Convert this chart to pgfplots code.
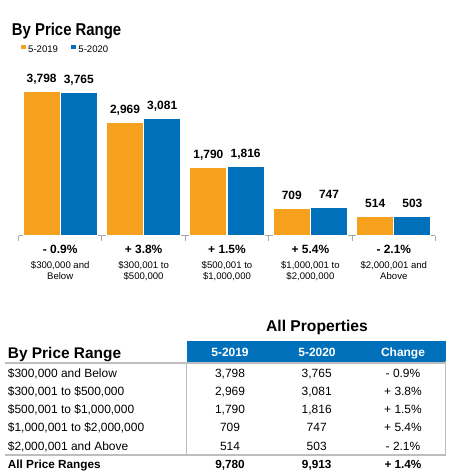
\documentclass[border=0pt]{standalone}
\usepackage{pgfplots}
\pgfplotsset{compat=1.18}
\usepackage{pgfplotstable}
\usepackage{fontspec}
\setmainfont{Liberation Sans}
\newfontfamily\condfont[FakeStretch=0.87]{Liberation Sans}
\definecolor{cOr}{HTML}{F5A11E}
\definecolor{cBl}{HTML}{0070BB}
\definecolor{cGr}{HTML}{BEBEBE}
\definecolor{cAx}{HTML}{A8A8A8}

\pgfplotstableread{
x y
0 3798
1 2969
2 1790
3 709
4 514
}\dataA
\pgfplotstableread{
x y
0 3765
1 3081
2 1816
3 747
4 503
}\dataB

\begin{document}
\begin{tikzpicture}
\begin{axis}[
  at={(18.5bp,-235.5bp)}, anchor=south west,
  scale only axis, width=417bp, height=151.6bp,
  xmin=-0.5, xmax=4.5, ymin=0, ymax=4000,
  axis x line*=bottom, axis y line=none,
  x axis line style={cAx, line width=0.8bp},
  ybar, bar width=37bp,
  xtick={0,1,2,3,4},
  xticklabels={
    {{\fontsize{12}{12}\selectfont\bfseries - 0.9\%}\\[3bp]\$300,000 and\\Below},
    {{\fontsize{12}{12}\selectfont\bfseries + 3.8\%}\\[3bp]\$300,001 to\\\$500,000},
    {{\fontsize{12}{12}\selectfont\bfseries + 1.5\%}\\[3bp]\$500,001 to\\\$1,000,000},
    {{\fontsize{12}{12}\selectfont\bfseries + 5.4\%}\\[3bp]\$1,000,001 to\\\$2,000,000},
    {{\fontsize{12}{12}\selectfont\bfseries - 2.1\%}\\[3bp]\$2,000,001 and\\Above}},
  major tick length=0pt,
  minor xtick={-0.5,0.5,1.5,2.5,3.5,4.5},
  minor tick length=5bp,
  minor x tick style={cAx, line width=0.8bp},
  tick align=outside,
  xticklabel style={align=center, font=\fontsize{9.6}{11.6}\selectfont, anchor=north, inner sep=0pt, yshift=-9.5bp},
  clip=false,
  /pgf/number format/assume math mode=true,
  /pgf/number format/1000 sep={,},
  nodes near coords={\pgfmathprintnumber{\pgfplotspointmeta}},
  every node near coord/.append style={font=\bfseries\fontsize{12}{12}\selectfont, black, anchor=base, inner sep=0pt, yshift=9bp},
  legend columns=2,
  legend style={at={(axis description cs:0.006,1.2256)}, anchor=west, draw=none, fill=none, inner sep=0pt,
    font=\fontsize{9.6}{9.6}\selectfont, nodes={inner sep=0pt},
    /tikz/every odd column/.style={column sep=2.5bp},
    /tikz/every even column/.style={column sep=13.5bp}},
  legend image code/.code={\fill[#1, draw=none] (0bp,0.8bp) rectangle (4.5bp,5.2bp);},
]
\addplot[fill=cOr, draw=white, line width=1bp, bar shift=-18.6bp] table[x=x,y=y] {\dataA};
\addplot[fill=cBl, draw=white, line width=1bp, bar shift=18.6bp] table[x=x,y=y] {\dataB};
\legend{5-2019, 5-2020}
\end{axis}

\begin{scope}[x=1bp, y=-1bp]
\node[anchor=base west, inner sep=0pt, font=\condfont\bfseries\fontsize{17.2}{17.2}\selectfont] at (11.7,35) {By Price Range};

% table
\node[anchor=base, inner sep=0pt, font=\bfseries\fontsize{15.7}{15.7}\selectfont] at (317,331.5) {All Properties};
\fill[cBl] (186.5,340.5) rectangle (445.5,361.5);
\begin{scope}[every node/.style={anchor=base, inner sep=0pt, text=white, font=\bfseries\fontsize{12}{12}\selectfont}]
\node at (230,356) {5-2019};
\node at (317,356) {5-2020};
\node at (403,356) {Change};
\end{scope}
\node[anchor=base west, inner sep=0pt, font=\bfseries\fontsize{15.5}{15.5}\selectfont] at (7.7,358) {By Price Range};
\draw[cGr, line width=1.5bp] (5,363) -- (446,363);
\draw[cGr, line width=1.5bp] (5,455) -- (446,455);
\draw[cGr, line width=1bp] (186.7,362) -- (186.7,455);
\draw[cGr, line width=1bp] (445.5,361) -- (445.5,455);

\begin{scope}[every node/.style={anchor=base, inner sep=0pt, font=\fontsize{12}{12}\selectfont}]
\node[anchor=base west] at (7.7,377) {\$300,000 and Below};
\node at (230,377) {3,798}; \node at (316.7,377) {3,765}; \node at (403,377) {- 0.9\%};
\node[anchor=base west] at (7.7,395.3) {\$300,001 to \$500,000};
\node at (230,395.3) {2,969}; \node at (316.7,395.3) {3,081}; \node at (403,395.3) {+ 3.8\%};
\node[anchor=base west] at (7.7,413.6) {\$500,001 to \$1,000,000};
\node at (230,413.6) {1,790}; \node at (316.7,413.6) {1,816}; \node at (403,413.6) {+ 1.5\%};
\node[anchor=base west] at (7.7,431.9) {\$1,000,001 to \$2,000,000};
\node at (230,431.9) {709}; \node at (316.7,431.9) {747}; \node at (403,431.9) {+ 5.4\%};
\node[anchor=base west] at (7.7,450.2) {\$2,000,001 and Above};
\node at (230,450.2) {514}; \node at (316.7,450.2) {503}; \node at (403,450.2) {- 2.1\%};
\end{scope}
\begin{scope}[every node/.style={anchor=base, inner sep=0pt, font=\bfseries\fontsize{11.8}{11.8}\selectfont}]
\node[anchor=base west] at (7.7,468.3) {All Price Ranges};
\node at (230,468.3) {9,780}; \node at (316.7,468.3) {9,913}; \node at (403,468.3) {+ 1.4\%};
\end{scope}
\end{scope}

\pgfresetboundingbox
\useasboundingbox (0,0) rectangle (455bp,-476bp);
\end{tikzpicture}
\end{document}
